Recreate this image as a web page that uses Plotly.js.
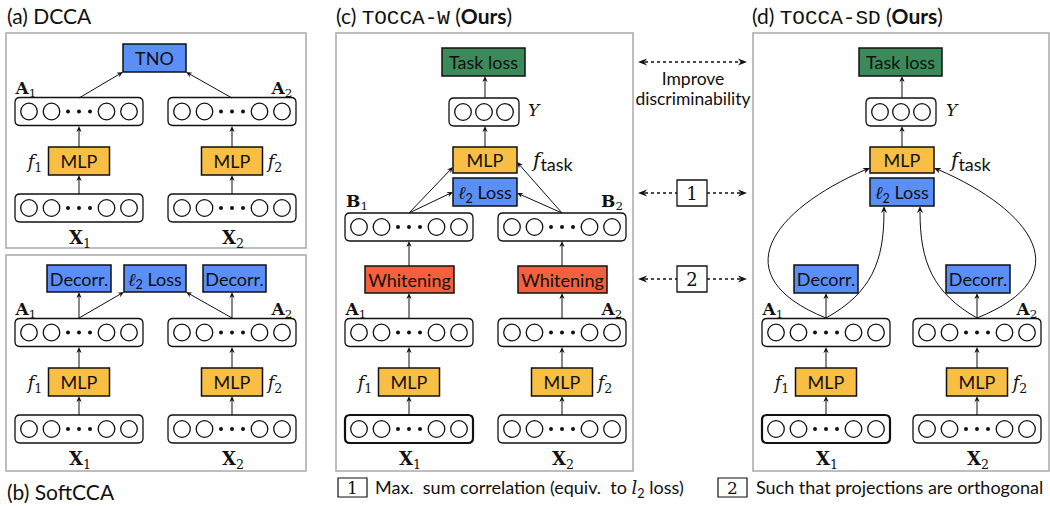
<!DOCTYPE html>
<html><head><meta charset="utf-8">
<script src="https://cdn.plot.ly/plotly-3.0.1.min.js"></script>
<style>html,body{margin:0;padding:0;background:#fff}</style>
</head><body><div id="chart" style="width:1050px;height:506px"></div>
<script>
// ---- content (text) ----
const panelTitles = ['(a) DCCA', '(b) SoftCCA', '(c) <span style="font-family:Liberation Mono">TOCCA-W</span> (<b>Ours</b>)', '(d) <span style="font-family:Liberation Mono">TOCCA-SD</span> (<b>Ours</b>)'];
const boxTexts = ['TNO', 'MLP', 'Decorr.', '<span style="font-family:DejaVu Serif;font-style:italic">ℓ</span><sub>2</sub> Loss', 'Whitening', 'Task loss'];
const boxColors = ['#5b8ff8', '#f9bf45', '#5b8ff8', '#5b8ff8', '#f4603f', '#3a8a5a'];
const viewLabels = ['<b>A</b><sub>1</sub>', '<b>A</b><sub>2</sub>', '<b>X</b><sub>1</sub>', '<b>X</b><sub>2</sub>', '<b>B</b><sub>1</sub>', '<b>B</b><sub>2</sub>'];
const funcLabels = ['<i>f</i><sub>1</sub>', '<i>f</i><sub>2</sub>', '<i>f</i><sub><span style="font-family:Lato;font-style:normal;font-size:18px">task</span></sub>', '<i>Y</i>'];
const middleLabels = ['Improve', 'discriminability', '1', '2'];
const legendTexts = ['Max.  sum correlation (equiv.  to <span style="font-family:DejaVu Serif"><i>l</i></span><sub>2</sub> loss)', 'Such that projections are orthogonal'];

const shapes = [];
// text marks collected into two text traces (centred / left-aligned)
const T = {c: {x: [], y: [], text: [], size: [], fam: []}, l: {x: [], y: [], text: [], size: [], fam: []}};
const SANS = 'Lato', SERIF = 'DejaVu Serif';
const INK = '#111';

function rect(x0, y0, x1, y1, fill, lw, col) {
  shapes.push({type: 'rect', xref: 'x', yref: 'y', layer: 'below', x0, y0, x1, y1, fillcolor: fill || 'rgba(0,0,0,0)', line: {color: col || INK, width: lw || 1.3}});
}
function rrect(x0, y0, x1, y1, r, lw) {
  const p = `M ${x0+r},${y0} L ${x1-r},${y0} Q ${x1},${y0} ${x1},${y0+r} L ${x1},${y1-r} Q ${x1},${y1} ${x1-r},${y1} L ${x0+r},${y1} Q ${x0},${y1} ${x0},${y1-r} L ${x0},${y0+r} Q ${x0},${y0} ${x0+r},${y0} Z`;
  shapes.push({type: 'path', xref: 'x', yref: 'y', layer: 'below', path: p, fillcolor: '#fff', line: {color: INK, width: lw || 1.3}});
}
function circ(cx, cy, r, fill, lw) {
  shapes.push({type: 'circle', xref: 'x', yref: 'y', layer: 'below', x0: cx-r, x1: cx+r, y0: cy-r, y1: cy+r, fillcolor: fill || 'rgba(0,0,0,0)', line: {color: INK, width: lw === undefined ? 1.3 : lw}});
}
function row(cx, cy, lw) {
  rrect(cx-64, cy-14, cx+64, cy+14, 5, lw);
  [-50, -27.5, 27.5, 50].forEach(d => circ(cx+d, cy, 8.3));
  [-11, 0, 11].forEach(d => circ(cx+d, cy, 2, INK, 0));
}
function yrow(cx, cy) {
  rrect(cx-35, cy-14, cx+35, cy+14, 5);
  [-21, 0, 21].forEach(d => circ(cx+d, cy, 8.3));
}
function txt(x, y, text, size, family, xanchor) {
  const t = xanchor === 'left' ? T.l : T.c;
  t.x.push(x); t.y.push(y + 1.5); t.text.push(text); t.size.push(size); t.fam.push(family || SANS);
}
function box(x0, y0, x1, y1, k) {
  rect(x0, y0, x1, y1, boxColors[k], 1.5);
  txt((x0+x1)/2, (y0+y1)/2 + 1, boxTexts[k], 18);
}
function head(x0, y0, x1, y1, len, hw) {
  const L = Math.hypot(x1-x0, y1-y0), ux = (x1-x0)/L, uy = (y1-y0)/L, px = -uy, py = ux;
  const bx = x1 - ux*len, by = y1 - uy*len, nx = x1 - ux*len*0.7, ny = y1 - uy*len*0.7;
  shapes.push({type: 'path', xref: 'x', yref: 'y', layer: 'below', line: {width: 0}, fillcolor: INK,
    path: `M ${x1},${y1} L ${bx+px*hw},${by+py*hw} L ${nx},${ny} L ${bx-px*hw},${by-py*hw} Z`});
  return [nx, ny];
}
function arrow(x0, y0, x1, y1) {
  const [nx, ny] = head(x0, y0, x1, y1, 6, 2.6);
  shapes.push({type: 'line', xref: 'x', yref: 'y', layer: 'below', x0, y0, x1: nx, y1: ny, line: {color: INK, width: 1}});
}
function curve(p) {
  shapes.push({type: 'path', xref: 'x', yref: 'y', layer: 'below', path: p, line: {color: INK, width: 1}});
}
function dotline(x0, x1, y) {
  shapes.push({type: 'line', xref: 'x', yref: 'y', layer: 'below', x0, x1, y0: y, y1: y, line: {color: INK, width: 1.3, dash: 'dot'}});
}

// ---- panel frames ----
const GREY = '#a9a9a9';
rect(6, 33, 306, 248, null, 1.5, GREY);
rect(6, 255, 306, 471, null, 1.5, GREY);
rect(336, 33, 633, 471, null, 1.5, GREY);
rect(753, 33, 1049, 471, null, 1.5, GREY);

txt(7, 17, panelTitles[0], 21, SANS, 'left');
txt(7, 493, panelTitles[1], 21, SANS, 'left');
txt(336, 17, panelTitles[2], 21, SANS, 'left');
txt(752, 17, panelTitles[3], 21, SANS, 'left');

// ---- bottom two-view encoder (shared by all panels) ----
function encoder(cxL, cxR, dy, thickX) {
  row(cxL, 429 - dy, thickX ? 2.2 : 1.3);
  row(cxR, 429 - dy);
  box(cxL-30.5, 368 - dy, cxL+30.5, 396 - dy, 1);
  box(cxR-30.5, 368 - dy, cxR+30.5, 396 - dy, 1);
  row(cxL, 332.5 - dy);
  row(cxR, 332.5 - dy);
  arrow(cxL, 415 - dy, cxL, 396 - dy);
  arrow(cxR, 415 - dy, cxR, 396 - dy);
  arrow(cxL, 368 - dy, cxL, 347 - dy);
  arrow(cxR, 368 - dy, cxR, 347 - dy);
  txt(cxL+1, 459 - dy, viewLabels[2], 18, SERIF);
  txt(cxR+1, 459 - dy, viewLabels[3], 18, SERIF);
  txt(cxL-44, 383 - dy, funcLabels[0], 18, SERIF);
  txt(cxR+43, 383 - dy, funcLabels[1], 18, SERIF);
  txt(cxL-53, 309 - dy, viewLabels[0], 17, SERIF);
  txt(cxR+50, 309 - dy, viewLabels[1], 17, SERIF);
}

// (a) DCCA
encoder(79, 232, 221, false);
box(123, 44, 186, 72, 0);
arrow(79, 98, 123, 72);
arrow(232, 98, 186, 72);

// (b) SoftCCA
encoder(79, 232, 0, false);
box(47, 265, 111, 292, 2);
box(124, 265, 186, 292, 3);
box(203, 265, 266, 292, 2);
arrow(79, 318, 79, 292);
arrow(232, 318, 232, 292);
arrow(79, 318, 124, 292);
arrow(232, 318, 186, 292);

// (c) TOCCA-W
encoder(409, 562, 0, true);
box(365, 266, 454, 293, 4);
box(518, 266, 607, 293, 4);
arrow(409, 318, 409, 293);
arrow(562, 318, 562, 293);
row(409, 227);
row(562, 227);
arrow(409, 266, 409, 241);
arrow(562, 266, 562, 241);
txt(357, 201, viewLabels[4], 17, SERIF);
txt(612, 201, viewLabels[5], 17, SERIF);
box(453, 178, 517, 206, 3);
box(453, 147, 517, 173, 1);
arrow(409, 213, 453, 167);
arrow(409, 213, 453, 192);
arrow(562, 213, 517, 162);
arrow(562, 213, 517, 193);
yrow(484, 112);
box(442, 48, 525, 76, 5);
arrow(485, 147, 485, 126);
arrow(485, 98, 485, 76);
txt(528, 110, funcLabels[3], 17, SERIF, 'left');
txt(533, 160, funcLabels[2], 20, SERIF, 'left');

// (d) TOCCA-SD
encoder(826, 977, 0, true);
box(794, 265, 858, 293, 2);
box(946, 265, 1010, 293, 2);
arrow(826, 318, 826, 293);
arrow(977, 318, 977, 293);
box(870, 178, 934, 206, 3);
box(870, 147, 934, 173, 1);
yrow(901, 112);
box(859, 48, 942, 76, 5);
arrow(902, 147, 902, 126);
arrow(902, 98, 902, 76);
txt(946, 110, funcLabels[3], 17, SERIF, 'left');
txt(951, 160, funcLabels[2], 20, SERIF, 'left');
curve('M 826,318 C 722,276 772,210 866,169.5');
curve('M 826,318 C 871,293 884,262 884,212');
curve('M 977,318 C 1082,276 1032,210 938,169.5');
curve('M 977,318 C 933,293 920,262 920,212');
head(862, 171.5, 870, 168, 7, 3);
head(884, 214, 884, 206, 7, 3);
head(942, 171.5, 934, 168, 7, 3);
head(920, 214, 920, 206, 7, 3);

// ---- middle column ----
[[62, null], [193, 2], [279, 3]].forEach(([y, k]) => {
  if (k === null) {
    dotline(645, 740, y);
  } else {
    dotline(645, 677, y);
    dotline(707, 740, y);
    rect(677, y - 13, 707, y + 13, '#fff', 1.3);
    txt(692, y + 1, middleLabels[k], 18, SERIF);
  }
  head(648, y, 638, y, 9, 3.6);
  head(737, y, 747, y, 9, 3.6);
});
txt(693, 79, middleLabels[0], 17.5);
txt(693, 99, middleLabels[1], 17.5);

// ---- legend ----
rect(338, 478, 367, 497, '#fff', 1.2);
txt(352.5, 488, '1', 17, SERIF);
txt(375, 488, legendTexts[0], 18, SANS, 'left');
rect(718, 478, 747, 497, '#fff', 1.2);
txt(732.5, 488, '2', 17, SERIF);
txt(756, 488, legendTexts[1], 18, SANS, 'left');

const traces = [
  {type: 'scatter', mode: 'text', x: T.c.x, y: T.c.y, text: T.c.text, textposition: 'middle center',
   textfont: {size: T.c.size, family: T.c.fam, color: INK}, hoverinfo: 'skip', cliponaxis: false},
  {type: 'scatter', mode: 'text', x: T.l.x, y: T.l.y, text: T.l.text, textposition: 'middle right',
   textfont: {size: T.l.size, family: T.l.fam, color: INK}, hoverinfo: 'skip', cliponaxis: false}
];

const layout = {
  width: 1050, height: 506,
  margin: {l: 0, r: 0, t: 0, b: 0},
  paper_bgcolor: '#fff', plot_bgcolor: '#fff',
  showlegend: false,
  xaxis: {range: [0, 1050], visible: false, fixedrange: true},
  yaxis: {range: [506, 0], visible: false, fixedrange: true},
  shapes
};
Plotly.newPlot('chart', traces, layout, {displayModeBar: false});
</script>
</body></html>
